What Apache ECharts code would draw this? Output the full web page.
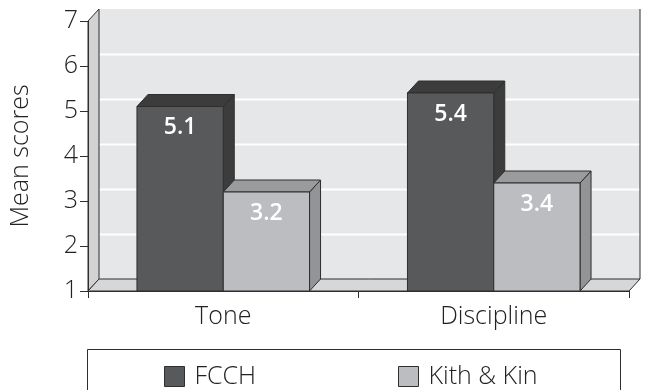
<!DOCTYPE html>
<html>
<head>
<meta charset="utf-8">
<script src="https://cdn.jsdelivr.net/npm/echarts@6/dist/echarts.min.js"></script>
<style>
  html, body { margin: 0; padding: 0; background: #fff; }
  #chart { width: 646px; height: 390px; }
</style>
</head>
<body>
<div id="chart"></div>
<script>
const categories = ['Tone', 'Discipline']
const fcchValues = [5.1, 5.4]
const kithValues = [3.2, 3.4]
const yTicks = [1, 2, 3, 4, 5, 6, 7]

// depth of the fake 3d look (px)
const DX = 11
const DY = -12
const LINE = '#2e2e2e'
const FONT = 'Open Sans'
const TEXT = '#222222'

const chart = echarts.init(document.getElementById('chart'))

// back wall, left wall, floor and the gridlines on the back wall
const renderFrame = (params, api) => {
  const cs = params.coordSys
  const left = cs.x
  const right = cs.x + cs.width
  const top = cs.y
  const bottom = cs.y + cs.height
  const children = [
    {
      type: 'polygon',
      shape: { points: [[left + DX, top + DY], [right + DX, top + DY], [right + DX, bottom + DY], [left + DX, bottom + DY]] },
      style: { fill: '#e6e7e8' },
    },
  ]
  yTicks.slice(1, -1).forEach((v) => {
    const y = Math.round(api.coord([0, v])[1] + DY) + 0.5
    children.push({
      type: 'line',
      shape: { x1: left + DX, y1: y, x2: right + DX, y2: y },
      style: { stroke: '#ffffff', lineWidth: 2 },
    })
  })
  children.push(
    {
      type: 'line',
      shape: { x1: right + DX, y1: top + DY, x2: right + DX, y2: bottom + DY },
      style: { stroke: LINE, lineWidth: 1 },
    },
    {
      type: 'polygon',
      shape: { points: [[left, top], [left + DX, top + DY], [left + DX, bottom + DY], [left, bottom]] },
      style: { fill: '#d1d2d4', stroke: LINE, lineWidth: 1 },
    },
    {
      type: 'polygon',
      shape: { points: [[left, bottom], [left + DX, bottom + DY], [right + DX, bottom + DY], [right, bottom]] },
      style: { fill: '#d6d7d9', stroke: LINE, lineWidth: 1 },
    }
  )
  return { type: 'group', children }
}

const makeBarRenderer = (side, front, topColor, sideColor) => (params, api) => {
  const idx = api.value(0)
  const val = api.value(1)
  const band = api.size([1, 0])[0]
  const w = band * 0.319
  const base = api.coord([idx, yTicks[0]])
  const tip = api.coord([idx, val])
  const x0 = side < 0 ? base[0] - w : base[0]
  const x1 = x0 + w
  const y0 = tip[1]
  const y1 = base[1]
  return {
    type: 'group',
    children: [
      {
        type: 'polygon',
        shape: { points: [[x1, y0], [x1 + DX, y0 + DY], [x1 + DX, y1 + DY], [x1, y1]] },
        style: { fill: sideColor, stroke: LINE, lineWidth: 1 },
      },
      {
        type: 'polygon',
        shape: { points: [[x0, y0], [x0 + DX, y0 + DY], [x1 + DX, y0 + DY], [x1, y0]] },
        style: { fill: topColor, stroke: LINE, lineWidth: 1 },
      },
      {
        type: 'rect',
        shape: { x: x0, y: y0, width: w, height: y1 - y0 },
        style: { fill: front, stroke: LINE, lineWidth: 1 },
      },
      {
        type: 'text',
        x: (x0 + x1) / 2,
        y: y0 + 21,
        style: {
          text: val.toFixed(1),
          fill: '#ffffff',
          font: '600 23px "' + FONT + '"',
          align: 'center',
          verticalAlign: 'middle',
        },
      },
    ],
  }
}

const legendText = { fontFamily: FONT, fontWeight: 300, fontSize: 25, color: TEXT, padding: [0, 0, 0, 5] }

const option = {
  animation: false,
  grid: { left: 83, right: 17, top: 21, bottom: 99 },
  xAxis: {
    type: 'category',
    data: categories,
    axisLine: { lineStyle: { color: LINE, width: 1 } },
    axisTick: { show: true, length: 7, lineStyle: { color: LINE } },
    axisLabel: { margin: 13, fontFamily: FONT, fontWeight: 300, fontSize: 25, color: TEXT },
    z: 10,
  },
  yAxis: {
    type: 'value',
    min: yTicks[0],
    max: yTicks[yTicks.length - 1],
    interval: 1,
    name: 'Mean scores',
    nameLocation: 'middle',
    nameRotate: 90,
    nameGap: 55,
    nameTextStyle: { fontFamily: FONT, fontWeight: 300, fontSize: 25, color: TEXT },
    axisLine: { show: true, lineStyle: { color: LINE, width: 1 } },
    axisTick: { show: true, length: 8, lineStyle: { color: LINE } },
    axisLabel: { margin: 10, fontFamily: FONT, fontWeight: 300, fontSize: 25, color: TEXT },
    splitLine: { show: false },
    z: 10,
  },
  legend: [
    {
      data: ['FCCH'],
      left: 159,
      top: 359,
      icon: 'rect',
      itemWidth: 20,
      itemHeight: 20,
      textStyle: legendText,
      itemStyle: { borderColor: LINE, borderWidth: 1 },
    },
    {
      data: ['Kith & Kin'],
      left: 393,
      top: 359,
      icon: 'rect',
      itemWidth: 20,
      itemHeight: 20,
      textStyle: legendText,
      itemStyle: { borderColor: LINE, borderWidth: 1 },
    },
  ],
  graphic: [
    {
      type: 'rect',
      left: 85,
      top: 347,
      shape: { width: 533, height: 42 },
      style: { fill: 'none', stroke: LINE, lineWidth: 1 },
    },
  ],
  series: [
    {
      type: 'custom',
      name: 'frame',
      renderItem: renderFrame,
      data: [[0, yTicks[0]]],
      silent: true,
      z: 1,
    },
    {
      type: 'custom',
      name: 'FCCH',
      renderItem: makeBarRenderer(-1, '#58595b', '#3c3c3d', '#3c3c3d'),
      itemStyle: { color: '#58595b' },
      data: categories.map((c, i) => [i, fcchValues[i]]),
      z: 2,
    },
    {
      type: 'custom',
      name: 'Kith & Kin',
      renderItem: makeBarRenderer(1, '#bcbdc0', '#9a9b9d', '#939496'),
      itemStyle: { color: '#bcbdc0' },
      data: categories.map((c, i) => [i, kithValues[i]]),
      z: 3,
    },
  ],
}

chart.setOption(option)
</script>
</body>
</html>
